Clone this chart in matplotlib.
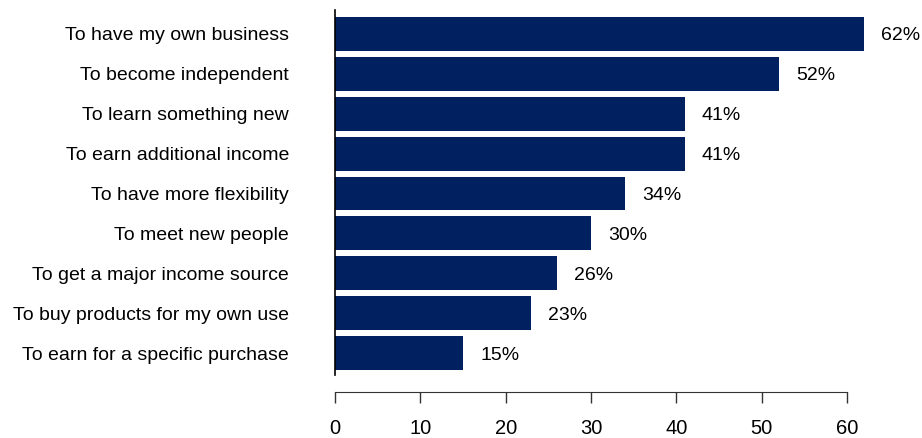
import matplotlib.pyplot as plt

plt.rcParams['font.family'] = ['Liberation Sans', 'DejaVu Sans']

reasons = [
    'To have my own business',
    'To become independent',
    'To learn something new',
    'To earn additional income',
    'To have more flexibility',
    'To meet new people',
    'To get a major income source',
    'To buy products for my own use',
    'To earn for a specific purchase',
]
shares = [62, 52, 41, 41, 34, 30, 26, 23, 15]
xticks = [0, 10, 20, 30, 40, 50, 60]

fig = plt.figure(figsize=(9.22, 4.38), dpi=100)
# axis runs to 62 so the longest bar fits; the drawn scale stops at 60
ax = fig.add_axes([0.3633, 0.1438, 0.5739, 0.8334])

pos = list(range(len(reasons)))
ax.barh(pos, shares, height=0.85, color='#002060')
for y, v in zip(pos, shares):
    ax.text(v + 2.0, y + 0.05, f'{v}%', va='center', ha='left', fontsize=14)

ax.set_xlim(0, 62)
ax.set_ylim(8.55, -0.6)
ax.set_yticks(pos)
ax.set_yticklabels(reasons, fontsize=14)
ax.tick_params(axis='y', length=0, pad=33)
ax.set_xticks(xticks)
ax.tick_params(axis='x', direction='out', length=8, width=1, labelsize=14.5, pad=12, color='#333333')

for s in ['top', 'right']:
    ax.spines[s].set_visible(False)
ax.spines['left'].set_linewidth(1.2)
ax.spines['left'].set_color('black')
ax.spines['bottom'].set_position(('outward', 12))
ax.spines['bottom'].set_bounds(0, 60)
ax.spines['bottom'].set_color('#333333')

fig.savefig('out.png', dpi=100)
